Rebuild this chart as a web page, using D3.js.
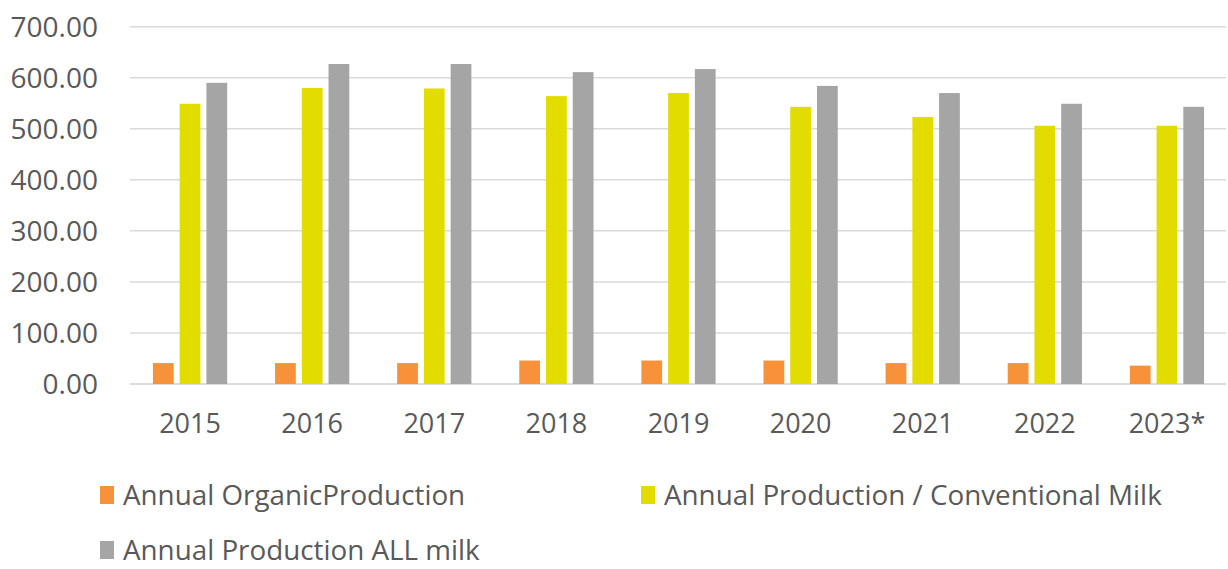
<!DOCTYPE html>
<html>
<head>
<meta charset="utf-8">
<script src="https://cdn.jsdelivr.net/npm/d3@7"></script>
<style>
  html, body { margin: 0; padding: 0; background: #ffffff; }
  svg { display: block; font-family: "Open Sans", "Liberation Sans", sans-serif; }
</style>
</head>
<body>
<svg id="chart" width="1228" height="569"></svg>
<script>
// Annual milk production by year
const years = ["2015", "2016", "2017", "2018", "2019", "2020", "2021", "2022", "2023*"];
const organic      = [41, 41, 41, 46, 46, 46, 41, 41, 36];
const conventional = [549, 580, 579, 564, 570, 543, 523, 506, 506];
const allMilk      = [590, 627, 627, 611, 617, 584, 570, 549, 543];
const yTicks = [0, 100, 200, 300, 400, 500, 600, 700];

const seriesNames  = ["Annual OrganicProduction", "Annual Production / Conventional Milk", "Annual Production ALL milk"];
const seriesColors = ["#F7923A", "#E2DC00", "#A5A5A5"];
const seriesValues = [organic, conventional, allMilk];

const svg = d3.select("#chart");
const plotLeft = 129, plotRight = 1228, plotTop = 26.7, plotBottom = 384;
const textColor = "#595959";
const fontStack = '"Open Sans", "Liberation Sans", sans-serif';

const x = d3.scaleBand().domain(years).range([plotLeft, plotRight]).padding(0);
const y = d3.scaleLinear().domain([0, 700]).range([plotBottom, plotTop]);

// horizontal gridlines
svg.append("g")
  .selectAll("line")
  .data(yTicks)
  .join("line")
  .attr("x1", plotLeft + 1)
  .attr("x2", plotRight - 2)
  .attr("y1", d => y(d))
  .attr("y2", d => y(d))
  .attr("stroke", d => d === 0 ? "#D0D0D0" : "#DADADA")
  .attr("stroke-width", 1.5);

// y axis labels
const yAxis = d3.axisLeft(y).tickValues(yTicks).tickFormat(d3.format(".2f")).tickSize(0).tickPadding(0);
const gy = svg.append("g").attr("transform", "translate(98,0)").call(yAxis)
  .attr("font-family", fontStack);
gy.select(".domain").remove();
gy.selectAll("text")
  .attr("fill", textColor)
  .style("font-size", "28px")
  .attr("dy", "0.35em");

// x axis labels
const xAxis = d3.axisBottom(x).tickSize(0).tickPadding(0);
const gx = svg.append("g").attr("transform", "translate(0,433)").call(xAxis)
  .attr("font-family", fontStack);
gx.select(".domain").remove();
gx.selectAll("text")
  .attr("fill", textColor)
  .style("font-size", "27px")
  .attr("dy", "0");

// clustered bars
const bw = x.bandwidth();
const barW = bw * 0.17;
const barStep = bw * 0.219;
const groupW = barStep * 2 + barW;

const groups = svg.append("g")
  .selectAll("g")
  .data(years)
  .join("g")
  .attr("transform", d => `translate(${x(d) + (bw - groupW) / 2},0)`);

groups.selectAll("rect")
  .data((d, i) => seriesValues.map((vals, s) => ({ s, v: vals[i] })))
  .join("rect")
  .attr("x", d => d.s * barStep)
  .attr("width", barW)
  .attr("y", d => y(d.v))
  .attr("height", d => y(0) - y(d.v))
  .attr("fill", d => seriesColors[d.s]);

// legend
const legendItems = [
  { s: 0, x: 100, y: 495 },
  { s: 1, x: 641, y: 495 },
  { s: 2, x: 100, y: 550 }
];
const lg = svg.append("g")
  .selectAll("g")
  .data(legendItems)
  .join("g")
  .attr("transform", d => `translate(${d.x},${d.y})`);

lg.append("rect")
  .attr("x", 0)
  .attr("y", -9)
  .attr("width", 14)
  .attr("height", 18)
  .attr("fill", d => seriesColors[d.s]);

lg.append("text")
  .attr("x", 23)
  .attr("y", 0)
  .attr("dy", "0.35em")
  .attr("fill", textColor)
  .style("font-size", "27.8px")
  .text(d => seriesNames[d.s]);
</script>
</body>
</html>
